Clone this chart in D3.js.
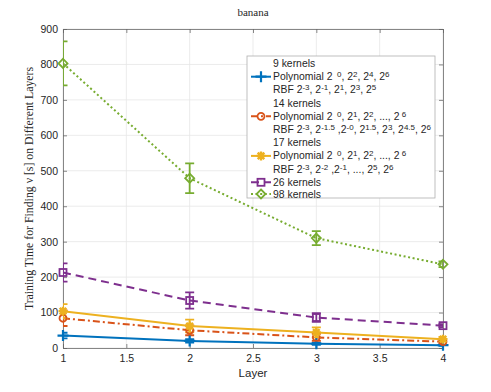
<!DOCTYPE html>
<html>
<head>
<meta charset="utf-8">
<script src="https://cdn.jsdelivr.net/npm/d3@7"></script>
<style>
  body { margin: 0; background: #fff; }
  svg { display: block; }
</style>
</head>
<body>
<svg id="chart" width="491" height="392"></svg>
<script>
const layers = [1, 2, 3, 4];
const xTicks = [1, 1.5, 2, 2.5, 3, 3.5, 4];
const yTicks = [0, 100, 200, 300, 400, 500, 600, 700, 800, 900];

// mean training time and error (half-length) for each kernel set
const k9 = [35, 20, 12, 8];
const k9Err = [8, 5, 3, 2];
const k14 = [84, 50, 30, 18];
const k14Err = [22, 14, 10, 5];
const k17 = [104, 62, 44, 25];
const k17Err = [20, 18, 14, 6];
const k26 = [213, 134, 86, 63];
const k26Err = [26, 23, 12, 4];
const k98 = [803, 479, 310, 236];
const k98Err = [62, 42, 20, 8];

const legendLines = [
  ['9 kernels', 'Polynomial 2^{  0}, 2^{2}, 2^{4}, 2^{6}', 'RBF 2^{-3}, 2^{-1}, 2^{1}, 2^{3}, 2^{5}'],
  ['14 kernels', 'Polynomial 2^{  0}, 2^{1}, 2^{2}, ..., 2^{ 6}', 'RBF 2^{-3}, 2^{-1.5} ,2^{-0}, 2^{1.5}, 2^{3}, 2^{4.5}, 2^{6}'],
  ['17 kernels', 'Polynomial 2^{  0}, 2^{1}, 2^{2}, ..., 2^{ 6}', 'RBF 2^{-3}, 2^{-2} ,2^{-1}, ..., 2^{5}, 2^{6}'],
  ['26 kernels'],
  ['98 kernels']
];

const series = [
  { vals: k9, err: k9Err, color: '#0072BD', dash: null, marker: 'plus' },
  { vals: k14, err: k14Err, color: '#D95319', dash: '7 3 2 3', marker: 'circle' },
  { vals: k17, err: k17Err, color: '#EDB120', dash: null, marker: 'star' },
  { vals: k26, err: k26Err, color: '#7E2F8E', dash: '8 5', marker: 'square' },
  { vals: k98, err: k98Err, color: '#77AC30', dash: '2 2.6', marker: 'diamond' }
];

const W = 491, H = 392;
const m = { left: 63, right: 48, top: 29, bottom: 44 };
const svg = d3.select('#chart');
const sans = '"Liberation Sans", Arial, sans-serif';
const serif = '"Liberation Serif", "DejaVu Serif", serif';

const x = d3.scaleLinear().domain([1, 4]).range([m.left, W - m.right]);
const y = d3.scaleLinear().domain([0, 900]).range([H - m.bottom, m.top]);

// grid
const grid = svg.append('g').attr('stroke', '#e6e6e6').attr('stroke-width', 0.8);
xTicks.forEach(t => grid.append('line').attr('x1', x(t)).attr('x2', x(t)).attr('y1', y(0)).attr('y2', y(900)));
yTicks.forEach(t => grid.append('line').attr('x1', x(1)).attr('x2', x(4)).attr('y1', y(t)).attr('y2', y(t)));

// axes
const axCol = '#6a6a6a';
const gx = svg.append('g').attr('transform', `translate(0,${y(0)})`)
  .call(d3.axisBottom(x).tickValues(xTicks).tickSize(-4).tickPadding(7).tickFormat(d3.format('')));
const gxt = svg.append('g').attr('transform', `translate(0,${y(900)})`)
  .call(d3.axisTop(x).tickValues(xTicks).tickSize(-4).tickFormat(''));
const gy = svg.append('g').attr('transform', `translate(${x(1)},0)`)
  .call(d3.axisLeft(y).tickValues(yTicks).tickSize(-4).tickPadding(5));
const gyr = svg.append('g').attr('transform', `translate(${x(4)},0)`)
  .call(d3.axisRight(y).tickValues(yTicks).tickSize(-4).tickFormat(''));
[gx, gxt, gy, gyr].forEach(g => {
  g.selectAll('path,line').attr('stroke', axCol).attr('stroke-width', 0.8);
  g.selectAll('text').attr('fill', '#262626').style('font-family', sans).style('font-size', '10.5px');
});

svg.append('clipPath').attr('id', 'plotclip').append('rect')
  .attr('x', x(1)).attr('y', y(900)).attr('width', x(4) - x(1)).attr('height', y(0) - y(900));

function drawMarker(g, type, cx, cy, color) {
  const s = g.append('g').attr('transform', `translate(${cx},${cy})`)
    .attr('stroke', color).attr('stroke-width', 1.8).attr('fill', 'none');
  if (type === 'plus') {
    s.append('path').attr('d', 'M-5.5,0H5.5M0,-5.5V5.5').attr('stroke-width', 2.2);
  } else if (type === 'circle') {
    s.append('circle').attr('r', 3.5);
  } else if (type === 'star') {
    s.append('path').attr('d', 'M-4.5,0H4.5M0,-4.5V4.5M-3.3,-3.3L3.3,3.3M-3.3,3.3L3.3,-3.3').attr('stroke-width', 2.4);
    s.append('circle').attr('r', 2.5).attr('fill', color).attr('stroke', 'none');
  } else if (type === 'square') {
    s.append('rect').attr('x', -3.5).attr('y', -3.5).attr('width', 7).attr('height', 7);
  } else if (type === 'diamond') {
    s.append('path').attr('d', 'M0,-4.5L4.5,0L0,4.5L-4.5,0Z');
  }
}

const plot = svg.append('g').attr('clip-path', 'url(#plotclip)');
const marks = svg.append('g');
const line = d3.line().x((d, i) => x(layers[i])).y(d => y(d));
series.forEach(s => {
  const g = plot.append('g');
  g.append('path').datum(s.vals).attr('d', line).attr('fill', 'none')
    .attr('stroke', s.color).attr('stroke-width', 2)
    .attr('stroke-dasharray', s.dash);
  s.vals.forEach((v, i) => {
    const cx = x(layers[i]);
    const lo = y(v - s.err[i]), hi = y(v + s.err[i]);
    g.append('path')
      .attr('d', `M${cx},${lo}V${hi}M${cx - 4.5},${lo}H${cx + 4.5}M${cx - 4.5},${hi}H${cx + 4.5}`)
      .attr('stroke', s.color).attr('stroke-width', 1.8).attr('fill', 'none');
    drawMarker(marks, s.marker, cx, y(v), s.color);
  });
});

// title and labels
svg.append('text').attr('x', (x(1) + x(4)) / 2).attr('y', 16).attr('text-anchor', 'middle')
  .style('font-family', serif).style('font-size', '11px').attr('fill', '#262626').text('banana');
svg.append('text').attr('x', (x(1) + x(4)) / 2).attr('y', 377).attr('text-anchor', 'middle')
  .style('font-family', sans).style('font-size', '11.5px').attr('fill', '#262626').text('Layer');
svg.append('text').attr('transform', `translate(33,${(y(0) + y(900)) / 2}) rotate(-90)`)
  .attr('text-anchor', 'middle').style('font-family', serif).style('font-size', '11.8px')
  .attr('fill', '#262626').text('Training Time for Finding \u03BD [s] on Different Layers');

// legend
const lg = svg.append('g');
lg.append('rect').attr('x', 247).attr('y', 56).attr('width', 188).attr('height', 142)
  .attr('fill', '#fff').attr('stroke', '#b0b0b0').attr('stroke-width', 0.8);

function richText(el, str) {
  const parts = str.split(/(\^\{[^}]*\})/).filter(p => p.length);
  parts.forEach(p => {
    if (p.startsWith('^{')) {
      el.append('tspan').attr('baseline-shift', '35%').style('font-size', '8px')
        .text(p.slice(2, -1));
    } else {
      el.append('tspan').text(p);
    }
  });
}

let ly = 63.5;
const lineGap = 13.2;
legendLines.forEach((rows, k) => {
  const s = series[k];
  const midRow = rows.length === 3 ? 1 : 0;
  rows.forEach((r, j) => {
    const t = lg.append('text').attr('x', 273).attr('y', ly + j * lineGap + 3.5)
      .attr('xml:space', 'preserve').style('white-space', 'pre')
      .style('font-family', sans).style('font-size', '10.4px').attr('fill', '#262626');
    richText(t, r);
  });
  const my = ly + midRow * lineGap;
  lg.append('line').attr('x1', 251).attr('x2', 271).attr('y1', my).attr('y2', my)
    .attr('stroke', s.color).attr('stroke-width', 2).attr('stroke-dasharray', s.dash);
  drawMarker(lg, s.marker, 261, my, s.color);
  ly += rows.length * lineGap - (rows.length === 3 ? 0 : 1.5);
});
</script>
</body>
</html>
